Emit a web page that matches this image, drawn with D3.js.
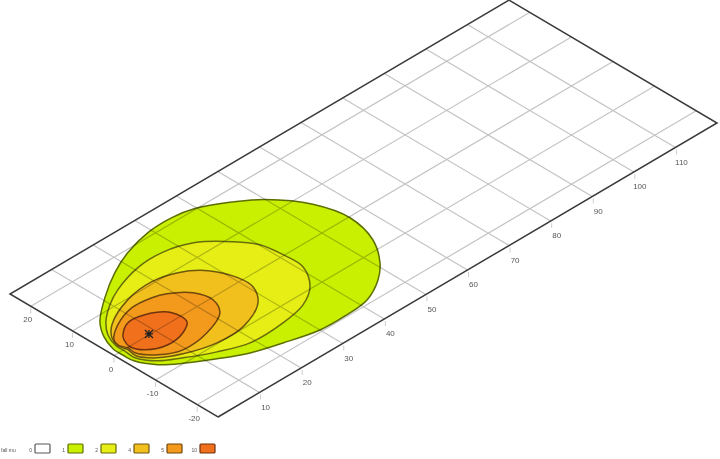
<!DOCTYPE html>
<html><head><meta charset="utf-8">
<script src="https://cdn.jsdelivr.net/npm/d3@7"></script>
<style>html,body{margin:0;background:#fff}svg{display:block}text{font-family:"Liberation Sans",sans-serif;fill:#555}</style>
</head><body><svg id="c" width="720" height="459"></svg>
<script>
const xTicks=[10,20,30,40,50,60,70,80,90,100,110];
const yTicks=[-20,-10,0,10,20];
const legendLabels=["0","1","2","4","5","10"];
const legendColors=["#ffffff","#c8f000","#e6ee14","#f2c01e","#f39a1c","#f0701c"];
const legendTitle="fall mu";
const sourcePoint=[8.6,0.2];
const level1X=[5.2,2.62,1.25,1.15,1.33,3.4,6.71,11.72,16.91,22.92,30.02,35.88,41.8,47.2,50.91,54.76,56.49,54.76,49.94,44.87,39.68,35.08,29.13,22.65,17,10.7];
const level1Y=[8.58,5.04,1.5,-1.15,-3.47,-7.1,-9.87,-13.04,-15.79,-17.72,-19.51,-19.66,-19.04,-16.28,-13.05,-7.48,-0.26,6.95,13.63,17.47,20.21,21.14,20.97,19.3,16.78,12.88];
const level2X=[5.92,3.5,2.23,2.2,2.06,4.2,7.83,13.15,18.95,27,33.08,37.6,40.83,40.9,40.15,37.5,32.75,26.74,20.79,13.9,9.87];
const level2Y=[7.86,4.97,1.76,-0.67,-2.98,-6.36,-8.75,-11.62,-13.75,-13.63,-12.37,-9.53,-4.61,0.25,5.05,8.9,13.28,15.2,15.03,12.95,10.84];
const level4X=[6.03,3.38,2.46,2.85,2.59,4.83,8.65,14.98,21.37,28.08,30.74,30.77,28.6,24.58,19.6,13.06];
const level4Y=[6.52,3.87,1.52,-0.5,-2.69,-5.75,-7.94,-9.78,-9.64,-6.54,-2.68,1,6,9.2,10.49,9.71];
const level5X=[6.75,3.21,2.58,3.26,3.08,5.44,9.47,15.82,21.46,23.28,22.3,18.97,16.35,11.9];
const level5Y=[5.8,3.22,1.4,-0.1,-1.96,-5.13,-7.12,-6.53,-4.01,-0.52,3.31,6.24,7.22,7.58];
const level10X=[5.31,8.36,12.04,15.7,15.66,12.93,8.68,4.9,3.7,4.41];
const level10Y=[3.16,5.01,4.6,1.75,-1.88,-3.64,-4.29,-2.55,-0.13,2.02];
const contours=[[level1X,level1Y,1],[level2X,level2Y,2],[level4X,level4Y,3],[level5X,level5Y,4],[level10X,level10Y,5]];

const svg=d3.select("#c");
svg.append("defs").append("filter").attr("id","soft").attr("x","-5%").attr("y","-5%").attr("width","110%").attr("height","110%")
  .append("feGaussianBlur").attr("stdDeviation",0.4);
const root=svg.append("g").attr("filter","url(#soft)");
const xDomain=[0,120],yDomain=[-25,25];
const xPx=d3.scaleLinear().domain(xDomain).range([0,499]);
const xPy=d3.scaleLinear().domain(xDomain).range([0,-294]);
const yPx=d3.scaleLinear().domain(yDomain).range([0,-208]);
const yPy=d3.scaleLinear().domain(yDomain).range([0,-123]);
const ox=218,oy=417;
const P=(x,y)=>[ox+xPx(x)+yPx(y),oy+xPy(x)+yPy(y)];
const line=d3.line().curve(d3.curveCatmullRomClosed.alpha(0.5));
const seg=(a,b)=>"M"+P(...a)+"L"+P(...b);

const contourG=root.append("g");
contours.forEach(([xs,ys,c])=>{
  contourG.append("path").attr("d",line(xs.map((x,i)=>P(x,ys[i]))))
    .attr("fill",legendColors[c]).attr("stroke",d3.color(legendColors[c]).darker(2.2).formatHex()).attr("stroke-width",1.5);
});

const grid=root.append("g").attr("stroke","#c4c4c4").attr("stroke-width",1.2).attr("fill","none").style("mix-blend-mode","multiply");
xTicks.forEach(t=>grid.append("path").attr("d",seg([t,yDomain[0]],[t,yDomain[1]])));
yTicks.forEach(t=>grid.append("path").attr("d",seg([xDomain[0],t],[xDomain[1],t])));

root.append("path").attr("fill","none").attr("stroke","#3a3a3a").attr("stroke-width",1.5)
  .attr("d","M"+[P(0,-25),P(120,-25),P(120,25),P(0,25)].join("L")+"Z");

const axes=root.append("g");
xTicks.forEach(t=>{
  const [a,b]=P(t,-25);
  axes.append("path").attr("d",`M${a+1},${b+2}v5`).attr("stroke","#ccc");
  axes.append("text").attr("x",a+6).attr("y",b+17).attr("text-anchor","middle").attr("font-size",8).text(t);
});
yTicks.forEach(t=>{
  const [a,b]=P(0,t);
  axes.append("path").attr("d",`M${a},${b+2}v5`).attr("stroke","#ccc");
  axes.append("text").attr("x",a-3).attr("y",b+16).attr("text-anchor","middle").attr("font-size",8).text(t);
});

const [sx,sy]=P(...sourcePoint);
root.append("path").attr("d",`M${sx-4},${sy-4}L${sx+4},${sy+4}M${sx-4},${sy+4}L${sx+4},${sy-4}M${sx},${sy-4}V${sy+4}M${sx-4},${sy}H${sx+4}`).attr("stroke","#222").attr("stroke-width",1.3);

const lg=root.append("g");
lg.append("text").attr("x",1).attr("y",452).attr("font-size",5).text(legendTitle);
const legendX=d3.scalePoint().domain(legendLabels).range([35,200]);
legendLabels.forEach((l,i)=>{
  const x=legendX(l);
  lg.append("rect").attr("x",x).attr("y",444).attr("width",15).attr("height",9).attr("rx",1)
    .attr("fill",legendColors[i]).attr("stroke",i? d3.color(legendColors[i]).darker(2.2).formatHex():"#555").attr("stroke-width",1.2);
  lg.append("text").attr("x",x-3).attr("y",452).attr("text-anchor","end").attr("font-size",5).text(l);
});
</script></body></html>
